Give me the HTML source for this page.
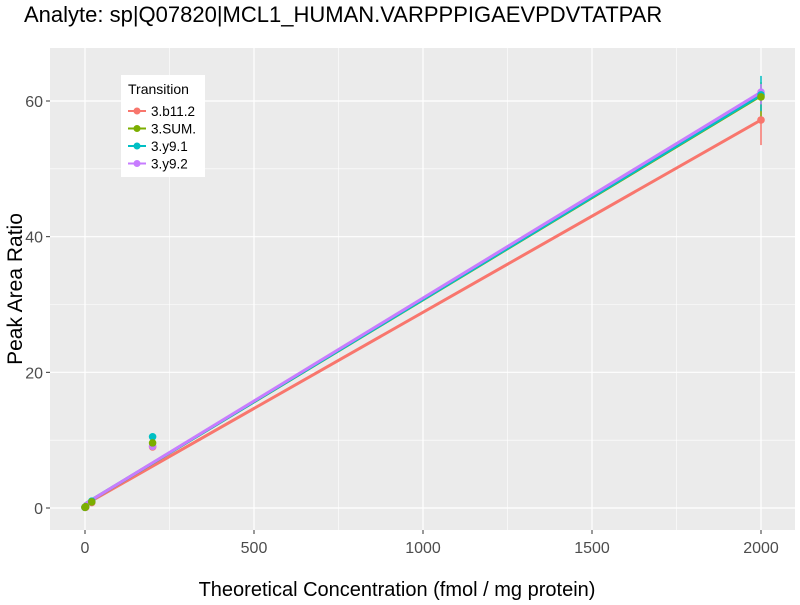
<!DOCTYPE html>
<html><head><meta charset="utf-8"><style>
body{margin:0;background:#fff;font-family:"Liberation Sans",sans-serif}
</style></head><body>
<svg width="800" height="600" font-family="Liberation Sans, sans-serif">
<text x="24" y="22" font-size="22">Analyte: sp|Q07820|MCL1_HUMAN.VARPPPIGAEVPDVTATPAR</text>
<rect x="50" y="48" width="745" height="482" fill="#ebebeb"/>
<g id="grid"></g>
<g id="marks"></g>
<g id="axes"></g>
<text x="397" y="596" text-anchor="middle" font-size="20" fill="#000">Theoretical Concentration (fmol / mg protein)</text>
<text transform="translate(22,289) rotate(-90)" text-anchor="middle" font-size="21" fill="#000">Peak Area Ratio</text>
<g id="legend">
<rect x="121" y="75" width="84" height="102" fill="#fff"/>
<text x="128" y="94" font-size="14">Transition</text>
</g>
</svg>
<script>
const series=['3.b11.2','3.SUM.','3.y9.1','3.y9.2'];
const colors=['#f8766d','#7cae00','#00bfc4','#c77cff'];
const concs=[0,2,20,200,2000];
const b11=[0.1,0.1,0.8,9.0,57.2];
const sum=[0.1,0.2,0.9,9.6,60.6];
const y91=[0.1,0.2,1.0,10.5,60.9];
const y92=[0.1,0.2,0.9,9.1,61.3];
const vals=[b11,sum,y91,y92];
const errLo=[53.5,57.6,58.5,59.5];
const errHi=[61.0,62.8,63.7,62.5];
const fitIntercept=[0.5,0.6,0.6,0.6];
const fitEnd=[57.2,60.8,60.9,61.3];
const xTicks=[0,500,1000,1500,2000];
const yTicks=[0,20,40,60];
const pointOrder=[0,3,2,1];
const NS='http://www.w3.org/2000/svg';
const X=v=>85+v*(761-85)/2000;
const Y=v=>508-v*(508-101)/60;
function mk(tag,attrs,parent){const e=document.createElementNS(NS,tag);for(const k in attrs)e.setAttribute(k,attrs[k]);document.getElementById(parent).appendChild(e);return e;}
xTicks.forEach((t,i)=>{
 if(i<xTicks.length-1){const m=mk('line',{x1:X(t+250),x2:X(t+250),y1:48,y2:530,stroke:'#fff','stroke-width':0.6},'grid');
 
 }
 const g=mk('line',{x1:X(t),x2:X(t),y1:48,y2:530,stroke:'#fff','stroke-width':1.2},'grid');
 
 
 const tk=mk('line',{x1:X(t),x2:X(t),y1:530,y2:534,stroke:'#333'},'axes');
 
 
 const l=mk('text',{x:X(t),y:553,'text-anchor':'middle','font-size':16,fill:'#4d4d4d'},'axes');l.textContent=t;
 
 
});
yTicks.forEach((t,i)=>{
 const m=mk('line',{x1:50,x2:795,y1:Y(t+10),y2:Y(t+10),stroke:'#fff','stroke-width':0.6},'grid');
 
 
 const g=mk('line',{x1:50,x2:795,y1:Y(t),y2:Y(t),stroke:'#fff','stroke-width':1.2},'grid');
 
 
 const tk=mk('line',{x1:46,x2:50,y1:Y(t),y2:Y(t),stroke:'#333'},'axes');
 
 
 const l=mk('text',{x:43,y:Y(t)+6,'text-anchor':'end','font-size':16,fill:'#4d4d4d'},'axes');l.textContent=t;
 
 
});
const m0=mk('line',{x1:50,x2:795,y1:Y(-10),y2:Y(-10),stroke:'#fff','stroke-width':0.6},'grid');


series.forEach((s,i)=>{
 const eb=mk('line',{x1:X(2000),x2:X(2000),y1:Y(errLo[i]),y2:Y(errHi[i]),stroke:colors[i],'stroke-width':1.5},'marks');
 
 
});
series.forEach((s,i)=>{
 const ln=mk('line',{x1:X(0),x2:X(2000),y1:Y(fitIntercept[i]),y2:Y(fitEnd[i]),stroke:colors[i],'stroke-width':3},'marks');
 
 
});
pointOrder.forEach(i=>{
 const s=series[i];
 concs.forEach((c,j)=>{
  const p=mk('circle',{cx:X(c),cy:Y(vals[i][j]),r:3.8,fill:colors[i]},'marks');
  
  
 });
});
series.forEach((s,i)=>{
 const ly=111+i*17.5;
 const ll=mk('line',{x1:128,x2:146,y1:ly,y2:ly,stroke:colors[i],'stroke-width':2},'legend');
 
 
 const lc=mk('circle',{cx:137,cy:ly,r:3.5,fill:colors[i]},'legend');
 
 
 const lt=mk('text',{x:151,y:ly+5,'font-size':13.5},'legend');lt.textContent=s;
 
 
});
</script>
</body></html>
